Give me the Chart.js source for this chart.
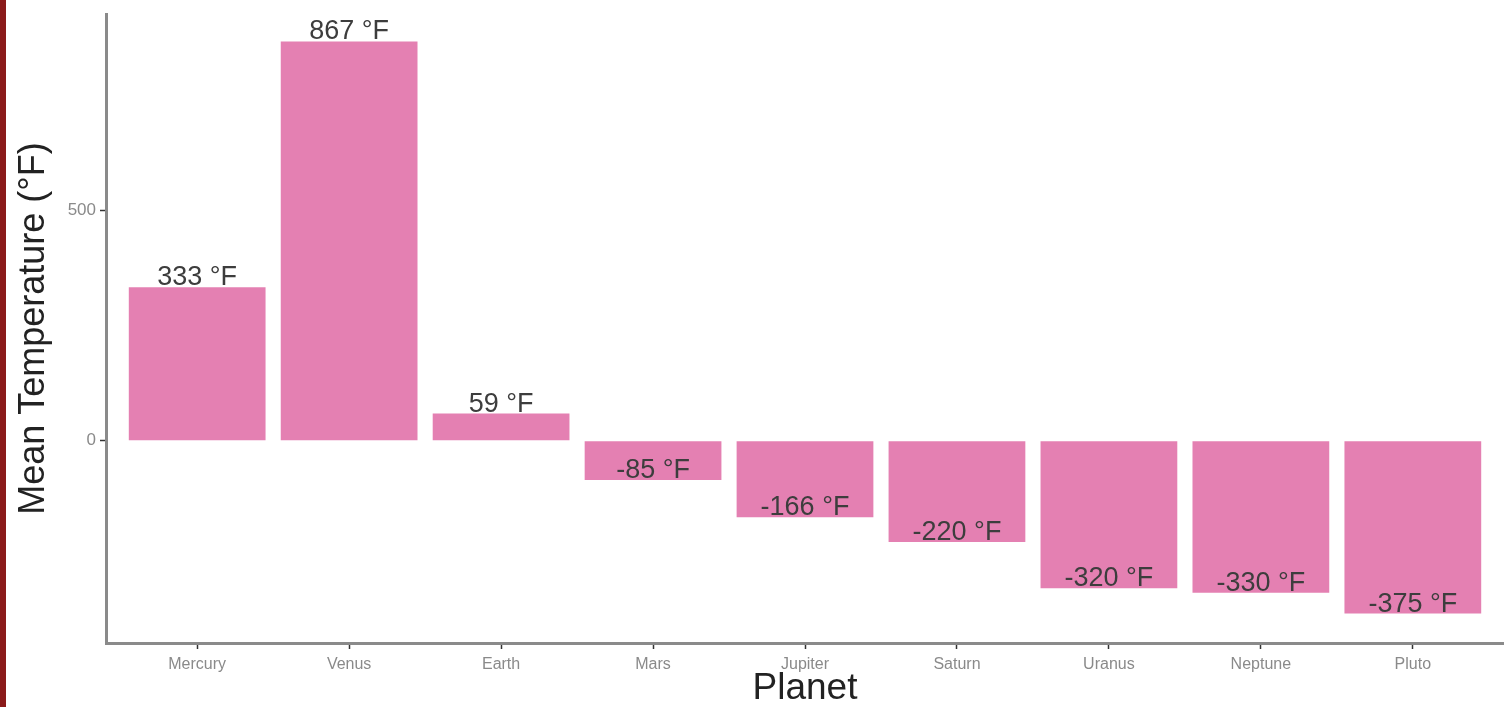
<!DOCTYPE html>
<html>
<head>
<meta charset="utf-8">
<script src="https://cdn.jsdelivr.net/npm/chart.js@4.4.1/dist/chart.umd.min.js"></script>
<style>
  html, body { margin: 0; padding: 0; background: #fff; }
  #wrap { position: relative; width: 1504px; height: 707px; }
  #edge { position: absolute; left: 0; top: 0; width: 6px; height: 707px; background: #8b1a1a; }
</style>
</head>
<body>
<div id="wrap">
  <canvas id="tempChart" width="1504" height="707"></canvas>
  <div id="edge"></div>
</div>
<script>
// ---- data ----
const planets = ["Mercury", "Venus", "Earth", "Mars", "Jupiter", "Saturn", "Uranus", "Neptune", "Pluto"];
const meanTemp = [333, 867, 59, -85, -166, -220, -320, -330, -375];
const yTicks = [0, 500];

const font = "'Liberation Sans', Arial, sans-serif";

// value labels, bottom of text sits on the bar end
const barLabels = {
    id: "barLabels",
    afterDatasetsDraw(chart) {
        const ctx = chart.ctx;
        const meta = chart.getDatasetMeta(0);
        ctx.save();
        ctx.font = "27px " + font;
        ctx.fillStyle = "#3d3d3d";
        ctx.textAlign = "center";
        ctx.textBaseline = "alphabetic";
        meta.data.forEach((bar, i) => {
            ctx.fillText(meanTemp[i] + " °F", bar.x, bar.y - 2);
        });
        ctx.restore();
    }
};

new Chart(document.getElementById("tempChart"), {
    type: "bar",
    data: {
        datasets: [{
            data: meanTemp.map((v, i) => ({ x: i, y: v })),
            backgroundColor: "#e480b2",
            borderWidth: 0,
            barPercentage: 0.9,
            categoryPercentage: 1.0
        }]
    },
    options: {
        responsive: false,
        animation: false,
        devicePixelRatio: 1,
        layout: { padding: { top: 12, left: 0, right: 0, bottom: 0 } },
        plugins: { legend: { display: false }, tooltip: { enabled: false } },
        scales: {
            x: {
                type: "linear",
                min: -0.6,
                max: 8.6,
                offset: false,
                afterBuildTicks: (axis) => { axis.ticks = planets.map((p, i) => ({ value: i })); },
                afterFit: (axis) => { axis.height = 64; },
                ticks: {
                    callback: (v) => planets[v],
                    color: "#8a8a8a",
                    font: { family: font, size: 16 },
                    padding: 6,
                    maxRotation: 0,
                    autoSkip: false
                },
                grid: { drawOnChartArea: false, offset: false, tickLength: 6, color: "#333", tickWidth: 1.5 },
                border: { color: "#8a8a8a", width: 3 },
                title: {
                    display: true,
                    text: "Planet",
                    color: "#222",
                    font: { family: font, size: 37, lineHeight: 1.0 },
                    padding: { top: 0, bottom: 0 }
                }
            },
            y: {
                min: -439,
                max: 926,
                afterBuildTicks: (axis) => { axis.ticks = yTicks.map(v => ({ value: v })); },
                afterFit: (axis) => { axis.width = 106; },
                ticks: {
                    color: "#8a8a8a",
                    font: { family: font, size: 17 },
                    padding: 4
                },
                grid: { drawOnChartArea: false, tickLength: 6, color: "#333", tickWidth: 1.5 },
                border: { color: "#8a8a8a", width: 3 },
                title: {
                    display: true,
                    text: "Mean Temperature (°F)",
                    color: "#222",
                    font: { family: font, size: 36 },
                    padding: { top: 12, bottom: 0 }
                }
            }
        }
    },
    plugins: [barLabels]
});
</script>
</body>
</html>
